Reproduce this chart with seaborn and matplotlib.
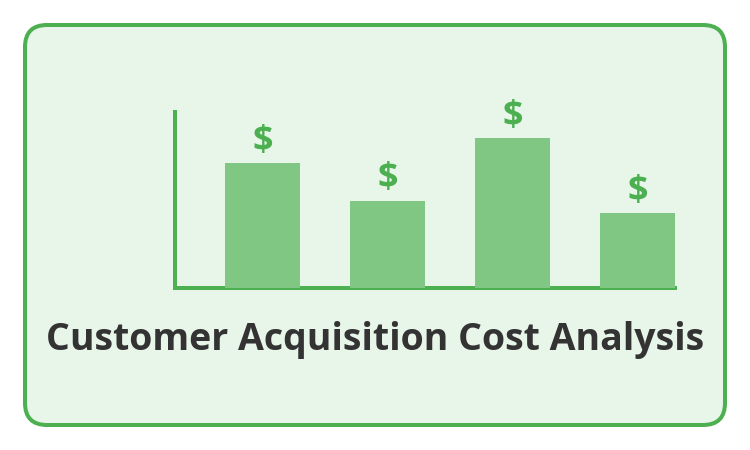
import matplotlib
matplotlib.use("Agg")
import matplotlib.pyplot as plt
import seaborn as sns
import pandas as pd
from matplotlib.patches import FancyBboxPatch

# chart data
channels = ["Channel A", "Channel B", "Channel C", "Channel D"]
cac_values = [50, 35, 60, 30]
bar_symbols = ["$", "$", "$", "$"]
title_text = "Customer Acquisition Cost Analysis"

GREEN = "#4caf50"
LIGHT_GREEN = "#81c784"
BG = "#e8f5e9"
DARK = "#333333"

sns.set_theme(style="white")
plt.rcParams["font.family"] = ["Open Sans", "DejaVu Sans"]

W, H = 750, 450
fig = plt.figure(figsize=(W / 100, H / 100), dpi=100)
fig.patch.set_facecolor("white")

# background card, pixel coordinates
bg = fig.add_axes([0, 0, 1, 1])
bg.set_xlim(0, W)
bg.set_ylim(H, 0)
bg.axis("off")
card = FancyBboxPatch((25, 25), 700, 400,
                      boxstyle="round,pad=0,rounding_size=22",
                      facecolor=BG, edgecolor=GREEN, linewidth=4 * 0.72)
bg.add_patch(card)
bg.text(375, 350, title_text, ha="center", va="baseline",
        fontsize=27, fontweight="bold", color=DARK)

# bar chart area: x 175..675 px, y 112..288 px
ax = fig.add_axes([175 / W, (H - 288) / H, 500 / W, 176 / H])
ax.patch.set_alpha(0)
df = pd.DataFrame({"channel": channels, "cac": cac_values})
sns.barplot(data=df, x="channel", y="cac", color=LIGHT_GREEN,
            saturation=1, width=0.6, linewidth=0, ax=ax, zorder=3)
ax.set_xlim(-0.7, 3.3)
ax.set_ylim(0, 70.4)
ax.set_xticks([])
ax.set_yticks([])
ax.set_xlabel("")
ax.set_ylabel("")
for side in ["top", "right"]:
    ax.spines[side].set_visible(False)
for side in ["left", "bottom"]:
    ax.spines[side].set_color(GREEN)
    ax.spines[side].set_linewidth(4 * 0.72)
    ax.spines[side].set_zorder(2)

for i, (v, s) in enumerate(zip(cac_values, bar_symbols)):
    ax.annotate(s, (i, v), xytext=(0, 3), textcoords="offset pixels",
                ha="center", va="bottom", fontsize=26, fontweight="bold",
                color=GREEN)

fig.savefig("out.png", dpi=100)
